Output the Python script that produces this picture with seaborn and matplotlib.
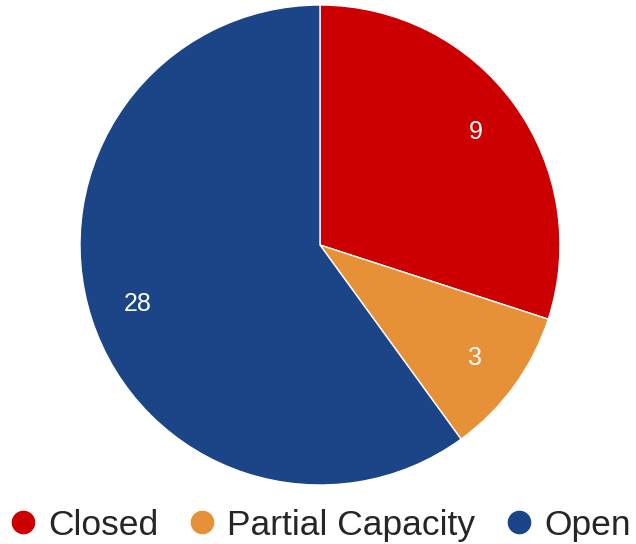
import matplotlib
matplotlib.use("Agg")
import matplotlib.pyplot as plt
from matplotlib.lines import Line2D
import seaborn as sns

# data
categories = ["Closed", "Partial Capacity", "Open"]
counts = [9, 3, 28]          # numbers printed on the slices
shares = [30, 10, 60]        # slice sizes as drawn (percent of circle)
colors = ["#cc0000", "#e69138", "#1c4587"]

sns.set_style("white")
plt.rcParams["font.family"] = ["Liberation Sans", "DejaVu Sans"]

fig = plt.figure(figsize=(6.36, 5.44), dpi=100)
# pie centred at (320,245) px with radius 240 px
ax = fig.add_axes([80 / 636, 1 - 485 / 544, 480 / 636, 480 / 544])

wedges, texts = ax.pie(shares, colors=colors, startangle=90, counterclock=False,
                       labels=[str(c) for c in counts], labeldistance=0.8,
                       wedgeprops=dict(linewidth=1, edgecolor="white"),
                       textprops=dict(color="white", fontsize=18))
for t in texts:
    t.set_ha("center")
    t.set_va("center")
ax.set_xlim(-1, 1)
ax.set_ylim(-1, 1)
ax.set_aspect("equal")
ax.axis("off")

handles = [Line2D([], [], marker="o", linestyle="", markersize=16,
                  markerfacecolor=c, markeredgecolor=c) for c in colors]
fig.legend(handles, categories, loc="lower center", bbox_to_anchor=(0.5, -0.022),
           ncol=3, frameon=False, fontsize=25.5, handletextpad=0.2,
           columnspacing=0.75, handlelength=1.0, borderaxespad=0)

fig.savefig("out.png", dpi=100)
